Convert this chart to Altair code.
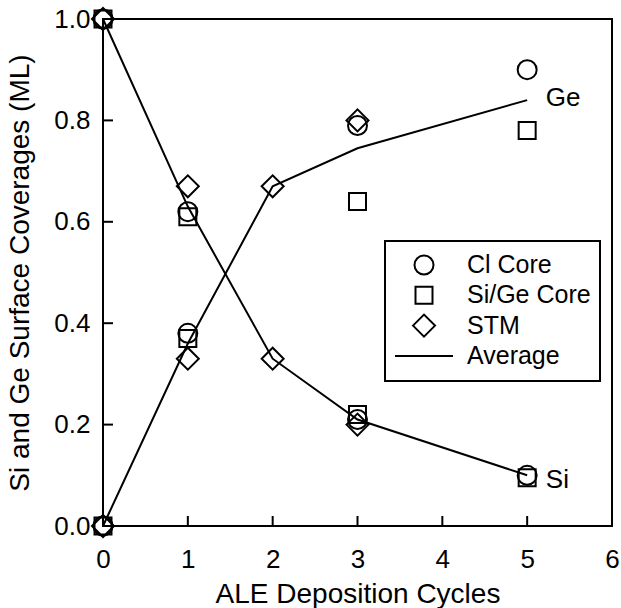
import altair as alt
import pandas as pd

# ---- data ----
series_names = ["Cl Core", "Si/Ge Core", "STM", "Average"]
cl_x = [0, 0, 1, 1, 3, 3, 5, 5]
cl_y = [1.0, 0.0, 0.62, 0.38, 0.79, 0.21, 0.90, 0.10]
sg_x = [0, 0, 1, 1, 3, 3, 5, 5]
sg_y = [1.0, 0.0, 0.61, 0.37, 0.64, 0.22, 0.78, 0.095]
stm_x = [0, 0, 1, 1, 2, 2, 3, 3]
stm_y = [1.0, 0.0, 0.67, 0.33, 0.67, 0.33, 0.80, 0.20]
avg_x = [0, 1, 2, 3, 5]
avg_ge = [0.0, 0.36, 0.67, 0.745, 0.84]
avg_si = [1.0, 0.63, 0.33, 0.21, 0.10]
label_names = ["Ge", "Si"]
label_x = [5.22, 5.22]
label_y = [0.845, 0.09]
x_ticks = [0, 1, 2, 3, 4, 5, 6]
y_ticks = [0.0, 0.2, 0.4, 0.6, 0.8, 1.0]
inner_x_ticks = [1, 2, 3, 4, 5]
inner_y_ticks = [0.2, 0.4, 0.6, 0.8]

FONT = "Liberation Sans"
FS = 26
TFS = 28
LFS = 25
W, H = 509, 507

SHAPES = {"Cl Core": "circle", "Si/Ge Core": "square", "STM": "diamond"}
SIZES = {"Cl Core": 361, "Si/Ge Core": 289, "STM": 484}

pts = pd.DataFrame(
    [{"x": a, "y": b, "s": "Cl Core"} for a, b in zip(cl_x, cl_y)]
    + [{"x": a, "y": b, "s": "Si/Ge Core"} for a, b in zip(sg_x, sg_y)]
    + [{"x": a, "y": b, "s": "STM"} for a, b in zip(stm_x, stm_y)]
)
lines = pd.DataFrame(
    [{"x": a, "y": b, "g": "Ge"} for a, b in zip(avg_x, avg_ge)]
    + [{"x": a, "y": b, "g": "Si"} for a, b in zip(avg_x, avg_si)]
)
labels = pd.DataFrame({"t": label_names, "x": label_x, "y": label_y})
xt = pd.DataFrame({"x": inner_x_ticks})
yt = pd.DataFrame({"y": inner_y_ticks})

xscale = alt.Scale(domain=[0, 6], nice=False, zero=False)
yscale = alt.Scale(domain=[0, 1], nice=False, zero=False)

xaxis = alt.Axis(values=x_ticks, format="d", tickSize=0, domain=False, grid=False,
                 labelPadding=20, labelFontSize=FS, labelFont=FONT, labelColor="black",
                 title="ALE Deposition Cycles", titleFont=FONT, titleFontSize=TFS,
                 titleFontWeight="normal", titleColor="black", titlePadding=8,
                 labelFlush=False)
yaxis = alt.Axis(values=y_ticks, format=".1f", tickSize=0, domain=False, grid=False,
                 labelPadding=13, labelFontSize=FS, labelFont=FONT, labelColor="black",
                 title="Si and Ge Surface Coverages (ML)", titleFont=FONT, titleFontSize=TFS,
                 titleFontWeight="normal", titleColor="black", titlePadding=19,
                 labelFlush=False)

line_layer = alt.Chart(lines).mark_line(color="black", strokeWidth=2).encode(
    x=alt.X("x:Q", scale=xscale, axis=xaxis),
    y=alt.Y("y:Q", scale=yscale, axis=yaxis),
    detail="g:N",
)

point_layers = []
for name in series_names[:3]:
    sub = pts[pts["s"] == name]
    point_layers.append(
        alt.Chart(sub).mark_point(filled=False, color="black", strokeWidth=2, opacity=1,
                                  shape=SHAPES[name], size=SIZES[name]).encode(
            x=alt.X("x:Q", scale=xscale),
            y=alt.Y("y:Q", scale=yscale),
        )
    )

text_layer = alt.Chart(labels).mark_text(align="left", baseline="middle", font=FONT,
                                         fontSize=FS, color="black").encode(
    x=alt.X("x:Q", scale=xscale),
    y=alt.Y("y:Q", scale=yscale),
    text="t:N",
)

xtick_layer = alt.Chart(xt).mark_rule(color="black", strokeWidth=2).encode(
    x=alt.X("x:Q", scale=xscale),
    y=alt.value(H),
    y2=alt.value(H - 10),
)
ytick_layer = alt.Chart(yt).mark_rule(color="black", strokeWidth=2).encode(
    y=alt.Y("y:Q", scale=yscale),
    x=alt.value(0),
    x2=alt.value(10),
)

# ---- legend (layout in pixels, relative to plot area) ----
LEG_X0, LEG_X1, LEG_Y0, LEG_Y1 = 282, 497, 222, 362
ROW0, ROW_STEP = 246, 30.3
SYM_X, LINE_X0, LINE_X1, TXT_X = 321, 292, 350, 364

one = pd.DataFrame({"a": [0]})
legend_layers = [
    alt.Chart(one).mark_rect(fill="white", stroke="black", strokeWidth=2).encode(
        x=alt.value(LEG_X0), x2=alt.value(LEG_X1), y=alt.value(LEG_Y0), y2=alt.value(LEG_Y1)
    )
]
for i, name in enumerate(series_names):
    ry = ROW0 + ROW_STEP * i
    if name in SHAPES:
        legend_layers.append(
            alt.Chart(one).mark_point(filled=False, color="black", strokeWidth=2, opacity=1,
                                      shape=SHAPES[name], size=SIZES[name]).encode(
                x=alt.value(SYM_X), y=alt.value(ry)
            )
        )
    else:
        legend_layers.append(
            alt.Chart(one).mark_rule(color="black", strokeWidth=2).encode(
                x=alt.value(LINE_X0), x2=alt.value(LINE_X1), y=alt.value(ry)
            )
        )
    legend_layers.append(
        alt.Chart(pd.DataFrame({"t": [name]})).mark_text(
            align="left", baseline="middle", font=FONT, fontSize=LFS, color="black"
        ).encode(x=alt.value(TXT_X), y=alt.value(ry), text="t:N")
    )

chart = alt.layer(line_layer, xtick_layer, ytick_layer, *point_layers, text_layer,
                  *legend_layers).properties(
    width=W, height=H,
    background="white",
    autosize=alt.AutoSizeParams(type="none"),
    padding={"left": 103, "top": 19, "right": 9, "bottom": 82},
).configure_view(
    stroke="black", strokeWidth=2
)

chart.save("out.html", embed_options={"renderer": "svg", "actions": False})
